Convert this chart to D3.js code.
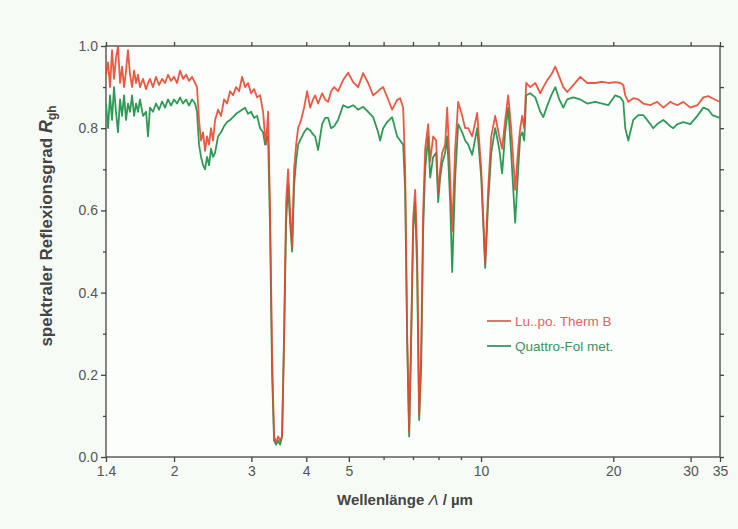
<!DOCTYPE html>
<html>
<head>
<meta charset="utf-8">
<script src="https://cdn.jsdelivr.net/npm/d3@7"></script>
<style>
html,body{margin:0;padding:0;background:#f6fbf6;}
svg{display:block;}
text{font-family:"Liberation Sans",Arial,sans-serif;}
</style>
</head>
<body>
<svg id="chart" width="738" height="529"></svg>
<script>
// wavelength grid (µm)
const wavelength = [1.400,1.415,1.430,1.445,1.460,1.475,1.491,1.507,1.523,1.539,1.555,1.571,1.588,1.605,1.622,1.639,1.656,1.673,1.700,1.727,1.745,1.763,1.791,1.820,1.849,1.878,1.908,1.938,1.969,2.000,2.032,2.064,2.097,2.130,2.164,2.198,2.233,2.256,2.280,2.304,2.329,2.353,2.378,2.403,2.428,2.454,2.480,2.519,2.559,2.600,2.641,2.683,2.725,2.769,2.813,2.857,2.902,2.948,2.995,3.043,3.091,3.140,3.190,3.223,3.240,3.275,3.309,3.344,3.379,3.415,3.451,3.487,3.524,3.561,3.599,3.637,3.675,3.714,3.753,3.793,3.833,3.893,3.955,4.018,4.082,4.146,4.190,4.257,4.347,4.416,4.486,4.557,4.629,4.727,4.853,4.982,5.114,5.250,5.390,5.533,5.680,5.831,5.892,5.986,6.113,6.275,6.442,6.544,6.648,6.718,6.789,6.860,6.933,7.006,7.080,7.154,7.230,7.306,7.383,7.461,7.579,7.659,7.781,7.904,7.988,8.072,8.157,8.286,8.374,8.506,8.596,8.732,8.871,9.059,9.203,9.349,9.547,9.800,10.01,10.22,10.38,10.55,10.77,11.00,11.17,11.35,11.53,11.71,11.96,12.15,12.28,12.41,12.54,12.67,12.94,13.29,13.64,13.86,14.15,14.45,14.76,15.07,15.39,15.71,16.22,16.82,17.45,18.20,18.88,19.48,20.21,20.75,21.08,21.30,21.64,22.21,22.80,23.41,24.29,24.67,25.19,26.00,26.97,27.40,27.98,28.88,29.96,31.08,32.07,32.92,33.62,34.33,35.00];

// Lu..po. Therm B
const thermB = [.93,.96,.90,.99,.92,.97,1.00,.91,.95,.90,.94,.99,.93,.90,.94,.91,.93,.90,.92,.895,.91,.92,.90,.925,.905,.92,.91,.93,.915,.925,.91,.94,.92,.93,.915,.925,.91,.90,.82,.77,.79,.745,.78,.76,.80,.77,.82,.845,.83,.87,.86,.89,.88,.90,.89,.925,.90,.91,.885,.895,.875,.88,.84,.78,.76,.84,.60,.25,.05,.035,.05,.04,.05,.30,.62,.70,.60,.51,.70,.76,.80,.82,.85,.89,.85,.87,.88,.86,.885,.87,.864,.89,.90,.89,.917,.935,.912,.90,.934,.91,.88,.89,.895,.90,.876,.845,.869,.873,.85,.70,.30,.06,.30,.58,.65,.50,.10,.25,.60,.75,.81,.72,.78,.77,.64,.70,.74,.76,.85,.68,.55,.75,.864,.83,.80,.80,.78,.837,.70,.47,.65,.78,.83,.78,.75,.82,.88,.80,.65,.75,.80,.83,.80,.91,.90,.91,.885,.90,.917,.93,.95,.925,.90,.888,.905,.925,.91,.91,.913,.91,.912,.91,.905,.88,.864,.873,.87,.86,.856,.86,.864,.85,.864,.86,.856,.864,.85,.856,.875,.878,.873,.868,.864];

// Quattro-Fol met.
const quattroFol = [.86,.80,.88,.82,.90,.84,.79,.87,.83,.88,.82,.86,.84,.88,.83,.86,.84,.87,.83,.84,.78,.85,.84,.86,.845,.865,.85,.87,.855,.87,.86,.875,.86,.87,.855,.87,.86,.84,.76,.73,.71,.70,.73,.71,.75,.73,.74,.78,.79,.805,.815,.82,.827,.835,.84,.845,.85,.835,.84,.825,.83,.80,.79,.76,.77,.78,.55,.20,.04,.03,.04,.03,.05,.28,.57,.66,.57,.50,.66,.72,.76,.775,.79,.80,.795,.785,.78,.747,.81,.825,.825,.80,.805,.82,.856,.85,.856,.845,.852,.84,.827,.79,.77,.80,.815,.827,.78,.77,.76,.65,.28,.05,.28,.55,.62,.45,.09,.22,.55,.70,.78,.68,.73,.74,.62,.68,.715,.74,.78,.62,.45,.68,.81,.79,.77,.76,.735,.80,.68,.46,.62,.74,.80,.75,.69,.79,.85,.74,.57,.70,.78,.79,.77,.88,.885,.875,.84,.827,.855,.88,.90,.87,.85,.87,.875,.87,.86,.864,.86,.856,.88,.875,.865,.80,.77,.82,.832,.832,.81,.80,.81,.82,.805,.80,.81,.815,.81,.83,.85,.845,.832,.828,.825];

const xTickValues = [1.4,2,3,4,5,10,20,30,35];
const xMinorTicks = [6,7,8,9];
const yTickValues = [0,0.2,0.4,0.6,0.8,1.0];
const yMinorTicks = [0.1,0.3,0.5,0.7,0.9];
const seriesNames = ["Lu..po. Therm B","Quattro-Fol met."];

const svg = d3.select("#chart");
const m = {l:106, r:18, t:46, b:72};
const W = 738, H = 529;
const x = d3.scaleLog().domain([1.4,35]).range([m.l, W-m.r]);
const y = d3.scaleLinear().domain([0,1]).range([H-m.b, m.t]);

const axisColor = "#444", labelColor = "#555";

// frame
svg.append("rect").attr("x",x(1.4)).attr("y",y(1)).attr("width",x(35)-x(1.4)).attr("height",y(0)-y(1))
  .attr("fill","#fcfefc").attr("stroke",axisColor).attr("stroke-width",1.3);

function styleAxis(g){
  g.select(".domain").remove();
  g.selectAll("line").attr("stroke",axisColor).attr("stroke-width",1.3);
  g.selectAll("text").attr("fill",labelColor).style("font-size","14px");
}

svg.append("g").attr("transform",`translate(0,${y(0)})`)
  .call(d3.axisBottom(x).tickValues(xTickValues).tickFormat(d=>String(d)).tickSize(5).tickPadding(4)).call(styleAxis);
svg.append("g").attr("transform",`translate(0,${y(0)})`)
  .call(d3.axisBottom(x).tickValues(xMinorTicks).tickFormat("").tickSize(3)).call(styleAxis);
svg.append("g").attr("transform",`translate(0,${y(1)})`)
  .call(d3.axisTop(x).tickValues(xTickValues.concat(xMinorTicks)).tickFormat("").tickSize(4)).call(styleAxis);

svg.append("g").attr("transform",`translate(${x(1.4)},0)`)
  .call(d3.axisLeft(y).tickValues(yTickValues).tickFormat(d3.format(".1f")).tickSize(5).tickPadding(3)).call(styleAxis);
svg.append("g").attr("transform",`translate(${x(1.4)},0)`)
  .call(d3.axisLeft(y).tickValues(yMinorTicks).tickFormat("").tickSize(3)).call(styleAxis);
svg.append("g").attr("transform",`translate(${x(35)},0)`)
  .call(d3.axisRight(y).tickValues(yTickValues.concat(yMinorTicks)).tickFormat("").tickSize(4)).call(styleAxis);

// lines
const line = d3.line().x((d,i)=>x(wavelength[i])).y(d=>y(d)).curve(d3.curveLinear);
svg.append("clipPath").attr("id","clip").append("rect")
  .attr("x",x(1.4)).attr("y",y(1)).attr("width",x(35)-x(1.4)).attr("height",y(0)-y(1));
const plot = svg.append("g").attr("clip-path","url(#clip)");
plot.append("path").datum(quattroFol).attr("d",line).attr("fill","none")
  .attr("stroke","#2f9a55").attr("stroke-width",1.8).attr("stroke-linejoin","round");
plot.append("path").datum(thermB).attr("d",line).attr("fill","none")
  .attr("stroke","#e8472f").attr("stroke-width",1.8).attr("stroke-opacity",0.9).attr("stroke-linejoin","round");

// legend
const legColors = ["#e06464","#3a9463"];
const lg = svg.append("g");
seriesNames.forEach((n,i)=>{
  const yy = 321 + i*25;
  lg.append("line").attr("x1",487).attr("x2",511).attr("y1",yy).attr("y2",yy)
    .attr("stroke",legColors[i]).attr("stroke-width",1.8);
  lg.append("text").attr("x",515).attr("y",yy+4.5).attr("fill",legColors[i])
    .style("font-size","13.5px").text(n);
});

// axis titles
const xt = svg.append("text").attr("x",405).attr("y",505).attr("text-anchor","middle")
  .attr("fill","#444").style("font-size","15px").style("font-weight","bold");
xt.append("tspan").text("Wellenlänge  ");
xt.append("tspan").style("font-style","italic").style("font-weight","normal").text("Λ");
xt.append("tspan").text("  / µm");

const yt = svg.append("text").attr("transform","translate(52,226) rotate(-90)").attr("text-anchor","middle")
  .attr("fill","#444").style("font-size","17px").style("font-weight","bold");
yt.append("tspan").text("spektraler Reflexionsgrad    ");
yt.append("tspan").style("font-style","italic").style("font-size","18px").text("R");
yt.append("tspan").attr("dy",4).style("font-size","12px").style("font-weight","bold").text("gh");
</script>
</body>
</html>
